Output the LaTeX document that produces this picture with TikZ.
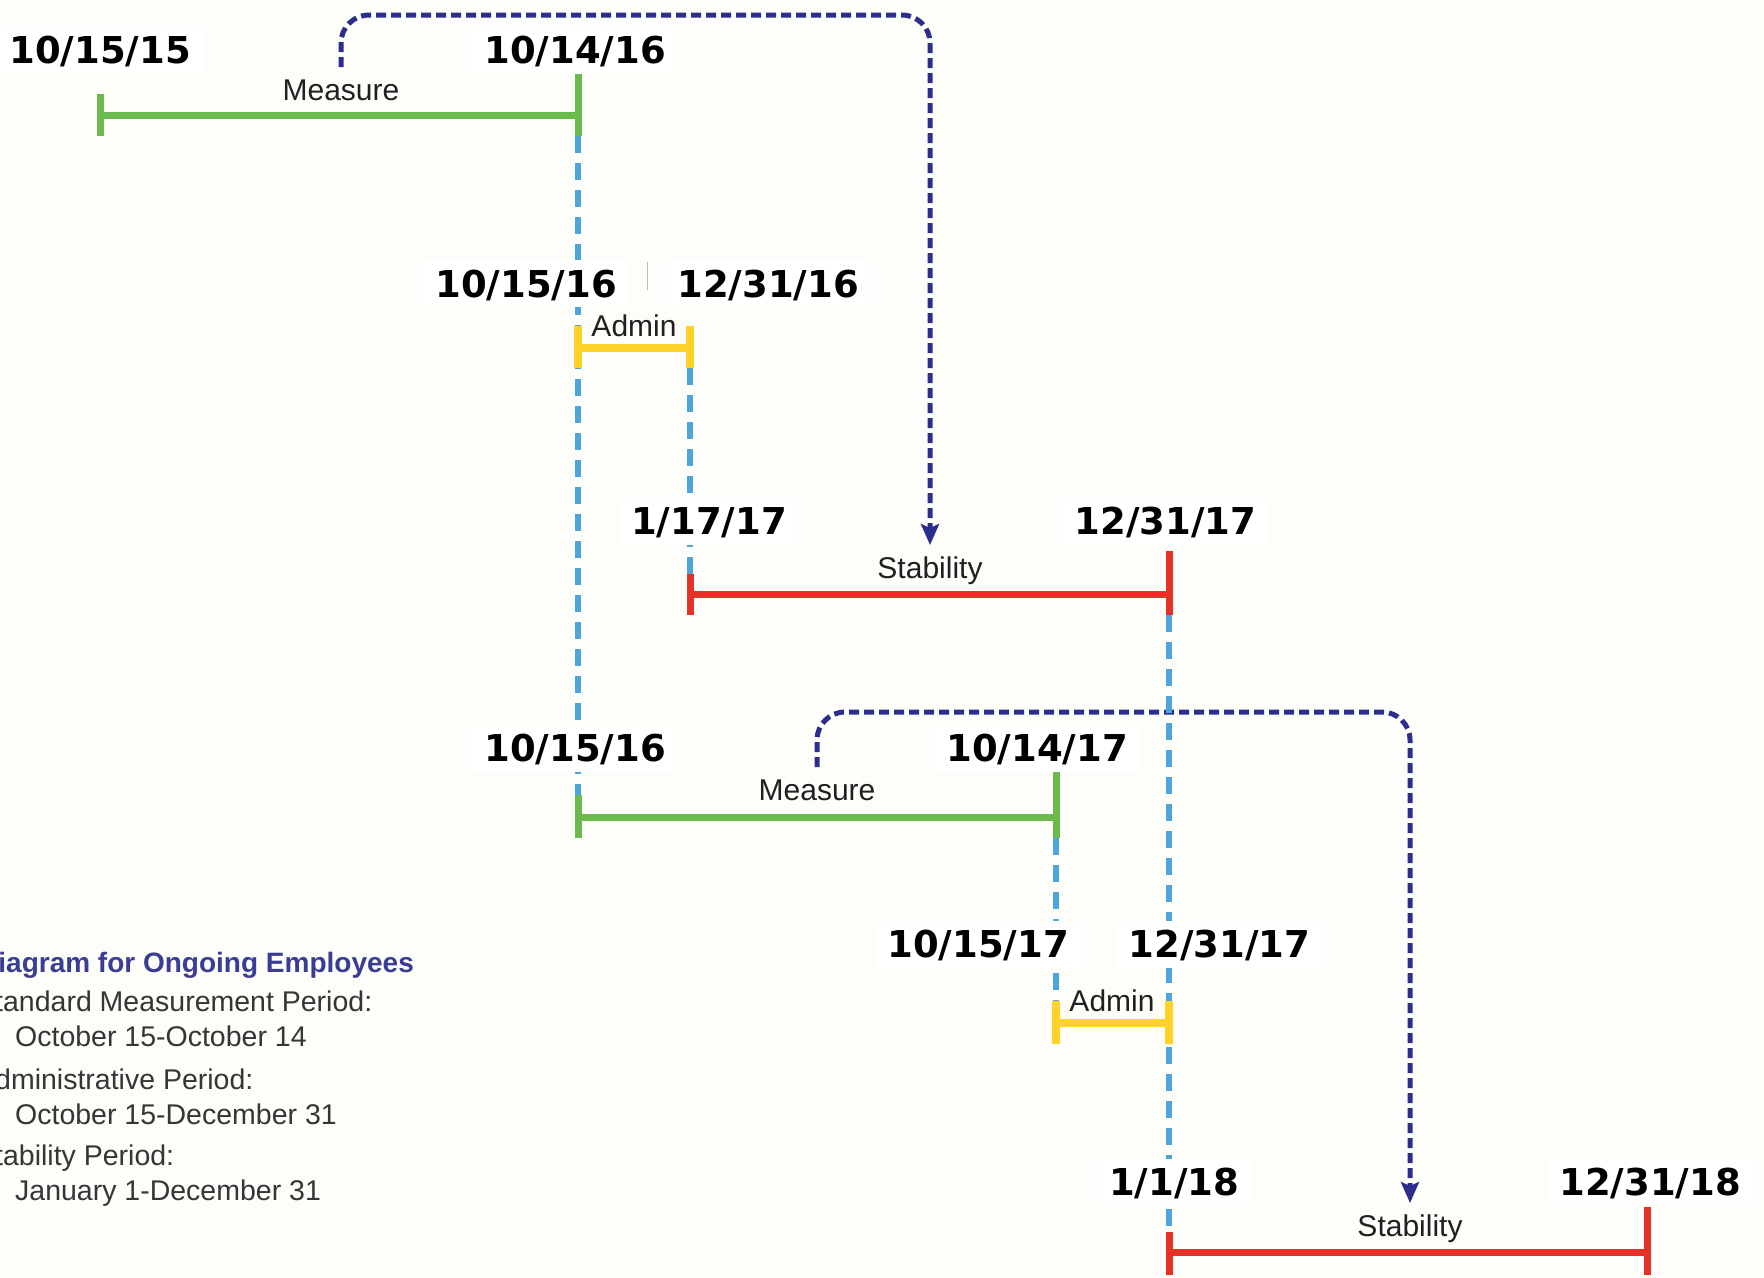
\documentclass[tikz,border=0pt]{standalone}
\usepackage{fontspec}
\setmainfont{Liberation Sans}
\newfontfamily\datefont{DejaVu Sans}
\usetikzlibrary{arrows.meta}

\definecolor{paper}{RGB}{253,253,250}
\definecolor{navy}{RGB}{44,46,140}
\definecolor{linkblue}{RGB}{77,165,220}
\definecolor{measgreen}{RGB}{108,186,78}
\definecolor{admyellow}{RGB}{255,210,40}
\definecolor{stabred}{RGB}{228,50,40}
\definecolor{titleblue}{RGB}{58,60,150}
\definecolor{ink}{RGB}{35,31,32}

\begin{document}
\begin{tikzpicture}[x=1pt,y=-1pt,
  datelbl/.style={font=\datefont\bfseries\fontsize{37}{44}\selectfont,
    fill=white, inner xsep=12pt, inner ysep=10pt,
    text height=27pt, text depth=0pt},
  phase/.style={font=\fontsize{30}{36}\selectfont, text=ink,
    inner xsep=2pt, inner ysep=12pt, text height=21.5pt, text depth=0pt},
  legtitle/.style={font=\bfseries\fontsize{28}{34}\selectfont, text=titleblue,
    anchor=west, inner sep=0pt, text height=20pt, text depth=0pt},
  legtext/.style={font=\fontsize{28.5}{34}\selectfont, text=ink!90,
    anchor=west, inner sep=0pt, text height=20.5pt, text depth=0pt},
  flow/.style={draw=navy, line width=5pt, dash pattern=on 10pt off 5pt,
    rounded corners=28pt, -{Stealth[length=21pt,width=18pt,inset=4pt]}},
  link/.style={draw=linkblue, line width=6.5pt, dash pattern=on 17pt off 10pt},
  measbar/.style={draw=measgreen, line width=7pt},
  admbar/.style={draw=admyellow, line width=7.5pt},
  stabbar/.style={draw=stabred, line width=7pt},
]
% page and background
\useasboundingbox (0,0) rectangle (1764,1277);
\fill[paper] (0,0) rectangle (1764,1277);
\clip (0,0) rectangle (1764,1277);

% phase labels
\node[phase] (meas1) at (341,90) {Measure};
\node[phase] (adm1) at (634,326) {Admin};
\node[phase] (stab1) at (930,568) {Stability};
\node[phase] (meas2) at (817,790) {Measure};
\node[phase] (adm2) at (1112,1001) {Admin};
\node[phase] (stab2) at (1410,1226) {Stability};

% turning levels of the feedback arrows
\coordinate (top1) at (0,15);
\coordinate (top2) at (0,712);

% feedback arrows: measurement result carried into the stability period
\draw[flow] (meas1.north) -- (meas1.north |- top1) -- (stab1.north |- top1) -- (stab1.north);
\draw[flow] (meas2.north) -- (meas2.north |- top2) -- (stab2.north |- top2) -- (stab2.north);

% end points of the blue connectors
\coordinate (g1end) at (578,136);
\coordinate (g2start) at (578,795);
\coordinate (y1end) at (690,368);
\coordinate (r1start) at (690,574);
\coordinate (r1end) at (1169,615);
\coordinate (r2start) at (1169,1232);
\coordinate (g2end) at (1056,838);
\coordinate (y2start) at (1056,1001);

\draw[link] (g1end) -- (g2start);
\draw[link] (y1end) -- (r1start);
\draw[link] (r1end) -- (r2start);
\draw[link] (g2end) -- (y2start);

% measurement periods
\draw[measbar] (100,115) -- (578,115);
\draw[measbar] (100,94) -- (100,136);
\draw[measbar] (578,74) -- (578,136);
\draw[measbar] (578,817) -- (1056,817);
\draw[measbar] (578,795) -- (578,838);
\draw[measbar] (1056,772) -- (1056,838);

% administrative periods
\draw[admbar] (578,348) -- (690,348);
\draw[admbar] (578,326) -- (578,368);
\draw[admbar] (690,326) -- (690,368);
\draw[admbar] (1056,1023) -- (1169,1023);
\draw[admbar] (1056,1001) -- (1056,1044);
\draw[admbar] (1169,1001) -- (1169,1044);

% stability periods
\draw[stabbar] (690,594) -- (1169,594);
\draw[stabbar] (690,574) -- (690,615);
\draw[stabbar] (1169,551) -- (1169,615);
\draw[stabbar] (1169,1252) -- (1647,1252);
\draw[stabbar] (1169,1232) -- (1169,1275);
\draw[stabbar] (1647,1207) -- (1647,1275);

% dates
\node[datelbl] (d1) at (100,49.5) {10/15/15};
\node[datelbl] (d2) at (575,49.5) {10/14/16};
\node[datelbl] (d3) at (526,283.5) {10/15/16};
\node[datelbl] (d4) at (768,283.5) {12/31/16};
\node[datelbl] (d5) at (709,521) {1/17/17};
\node[datelbl] (d6) at (1165.5,521) {12/31/17};
\node[datelbl] (d7) at (575,748) {10/15/16};
\node[datelbl] (d8) at (1037,748) {10/14/17};
\node[datelbl] (d9) at (978,944) {10/15/17};
\node[datelbl] (d10) at (1219.5,944) {12/31/17};
\node[datelbl] (d11) at (1174,1182) {1/1/18};
\node[datelbl] (d12) at (1650,1182) {12/31/18};

% hairline between the admin dates
\draw[gray!55, line width=1pt] (647,262) -- (647,290);

% legend
\node[legtitle] (lt) at (-22,962) {Diagram for Ongoing Employees};
\node[legtext] (l1) at (-24,1001) {Standard Measurement Period:};
\node[legtext] (l2) at (15,1036) {October 15-October 14};
\node[legtext] (l3) at (-24,1079) {Administrative Period:};
\node[legtext] (l4) at (15,1114) {October 15-December 31};
\node[legtext] (l5) at (-24,1155) {Stability Period:};
\node[legtext] (l6) at (15,1190) {January 1-December 31};
\end{tikzpicture}
\end{document}
